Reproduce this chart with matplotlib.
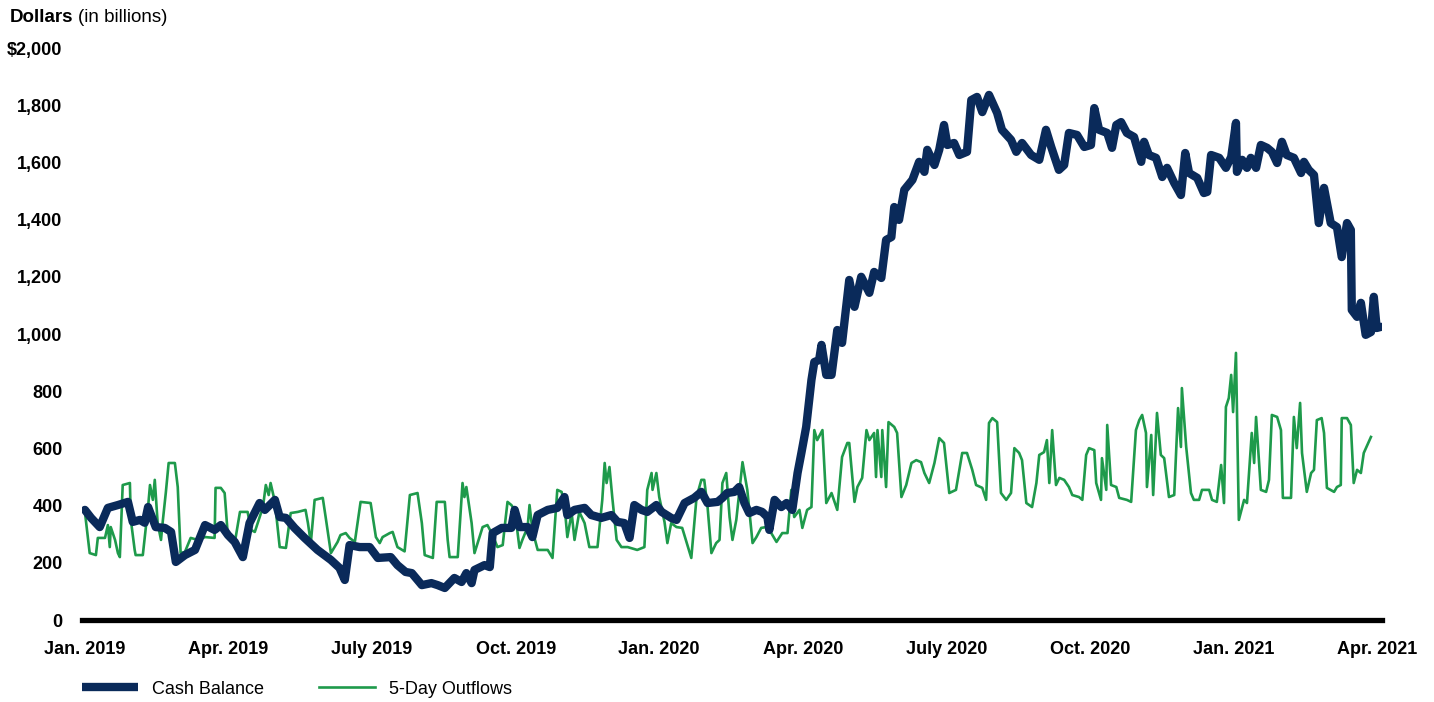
import matplotlib
matplotlib.use('Agg')
import matplotlib.pyplot as plt

plt.rcParams['font.family'] = ['Liberation Sans', 'DejaVu Sans']

# x positions are months since Jan. 2019
cash_months = [0.00, 0.13, 0.31, 0.48, 0.69, 0.90, 1.00, 1.15, 1.25, 1.32, 1.48, 1.67, 1.80, 1.90,
               2.09, 2.30, 2.51, 2.71, 2.84, 2.99, 3.13, 3.30, 3.44, 3.65, 3.76, 3.97, 4.07, 4.20,
               4.38, 4.59, 4.86, 5.14, 5.32, 5.43, 5.53, 5.74, 5.95, 6.12, 6.39, 6.53, 6.70, 6.83,
               7.04, 7.24, 7.37, 7.52, 7.72, 7.87, 7.97, 8.08, 8.14, 8.35, 8.46, 8.52, 8.71, 8.91,
               8.98, 9.08, 9.25, 9.35, 9.46, 9.67, 9.87, 10.02, 10.08, 10.23, 10.44, 10.58, 10.79,
               11.00, 11.13, 11.27, 11.38, 11.48, 11.63, 11.75, 11.94, 12.05, 12.25, 12.36, 12.53,
               12.73, 12.88, 13.01, 13.22, 13.32, 13.42, 13.57, 13.67, 13.78, 13.88, 14.03, 14.15,
               14.26, 14.30, 14.41, 14.55, 14.66, 14.78, 14.89, 14.97, 15.07, 15.18, 15.24, 15.34,
               15.39, 15.49, 15.60, 15.72, 15.82, 15.97, 16.08, 16.22, 16.39, 16.49, 16.64, 16.74,
               16.85, 16.91, 17.01, 17.12, 17.29, 17.43, 17.54, 17.60, 17.75, 17.85, 17.95, 18.02,
               18.16, 18.27, 18.43, 18.52, 18.64, 18.75, 18.89, 19.06, 19.16, 19.35, 19.46, 19.58,
               19.77, 19.94, 20.08, 20.19, 20.35, 20.46, 20.56, 20.73, 20.88, 21.02, 21.09, 21.19,
               21.36, 21.46, 21.55, 21.65, 21.77, 21.92, 22.07, 22.13, 22.23, 22.38, 22.51, 22.61,
               22.76, 22.90, 22.99, 23.07, 23.24, 23.38, 23.45, 23.53, 23.70, 23.84, 23.95, 24.05,
               24.07, 24.18, 24.28, 24.36, 24.47, 24.57, 24.70, 24.80, 24.91, 25.01, 25.11, 25.26,
               25.41, 25.47, 25.57, 25.68, 25.78, 25.89, 26.03, 26.16, 26.26, 26.37, 26.45, 26.47,
               26.58, 26.66, 26.76, 26.87, 26.93, 26.99, 27.08]
cash_balance = [385, 357, 325, 392, 402, 413, 343, 350, 340, 395, 325, 322, 308, 203,
                227, 245, 332, 315, 332, 297, 273, 220, 339, 409, 385, 420, 360, 357,
                322, 287, 245, 210, 182, 140, 262, 255, 255, 217, 220, 192, 168, 164,
                122, 129, 122, 112, 147, 133, 164, 129, 175, 192, 185, 304, 322, 322,
                385, 325, 325, 290, 367, 385, 392, 430, 367, 385, 392, 367, 357,
                367, 343, 339, 287, 402, 385, 378, 402, 378, 357, 350, 409,
                427, 448, 409, 413, 427, 444, 448, 465, 409, 374, 385, 378,
                360, 315, 420, 395, 409, 385, 514, 584, 675, 839, 902, 909,
                962, 857, 857, 1014, 969, 1189, 1095, 1200, 1144, 1217, 1196, 1329,
                1339, 1444, 1399, 1504, 1539, 1602, 1567, 1644, 1591, 1644, 1731, 1661,
                1668, 1626, 1637, 1818, 1829, 1776, 1836, 1773, 1714, 1679, 1637, 1668,
                1626, 1609, 1714, 1654, 1574, 1591, 1703, 1696, 1654, 1661, 1790, 1714,
                1703, 1651, 1731, 1741, 1703, 1689, 1602, 1672, 1626, 1616, 1549, 1581,
                1528, 1486, 1633, 1563, 1546, 1493, 1497, 1626, 1616, 1581, 1619, 1738,
                1567, 1609, 1581, 1616, 1581, 1661, 1651, 1637, 1598, 1672, 1626, 1616,
                1563, 1602, 1574, 1556, 1388, 1511, 1388, 1374, 1269, 1388, 1364, 1084,
                1060, 1109, 997, 1007, 1130, 1021, 1025]

outflow_months = [0.00, 0.10, 0.23, 0.27, 0.42, 0.48, 0.52, 0.54, 0.63, 0.69, 0.73, 0.79, 0.94, 0.96,
                  1.04, 1.06, 1.21, 1.32, 1.36, 1.42, 1.46, 1.52, 1.59, 1.63, 1.69, 1.75, 1.88, 1.94,
                  2.00, 2.09, 2.21, 2.36, 2.51, 2.71, 2.73, 2.84, 2.92, 2.99, 3.13, 3.24, 3.40, 3.47,
                  3.55, 3.61, 3.72, 3.78, 3.84, 3.88, 3.97, 4.07, 4.20, 4.30, 4.45, 4.61, 4.66, 4.72,
                  4.80, 4.97, 5.03, 5.14, 5.28, 5.34, 5.45, 5.53, 5.64, 5.76, 5.97, 6.08, 6.16, 6.22,
                  6.37, 6.43, 6.53, 6.68, 6.79, 6.95, 7.04, 7.10, 7.27, 7.35, 7.52, 7.58, 7.62, 7.79,
                  7.89, 7.93, 7.97, 8.08, 8.14, 8.31, 8.41, 8.52, 8.62, 8.73, 8.77, 8.83, 8.91, 8.98,
                  9.08, 9.14, 9.25, 9.29, 9.35, 9.46, 9.67, 9.77, 9.87, 9.96, 10.02, 10.08, 10.17,
                  10.23, 10.33, 10.44, 10.54, 10.71, 10.81, 10.86, 10.90, 10.96, 11.02, 11.11, 11.21,
                  11.34, 11.54, 11.69, 11.75, 11.84, 11.86, 11.94, 12.00, 12.11, 12.17, 12.25, 12.36,
                  12.48, 12.67, 12.78, 12.88, 12.94, 13.01, 13.09, 13.19, 13.26, 13.32, 13.40, 13.47,
                  13.53, 13.61, 13.74, 13.84, 13.95, 14.03, 14.13, 14.24, 14.34, 14.45, 14.57, 14.68,
                  14.76, 14.82, 14.93, 14.99, 15.09, 15.18, 15.24, 15.30, 15.41, 15.49, 15.60, 15.72,
                  15.82, 15.93, 15.97, 16.08, 16.14, 16.24, 16.33, 16.39, 16.49, 16.53, 16.56, 16.64,
                  16.66, 16.74, 16.79, 16.91, 16.97, 17.06, 17.16, 17.27, 17.37, 17.47, 17.54, 17.64,
                  17.75, 17.85, 17.95, 18.06, 18.20, 18.33, 18.43, 18.54, 18.62, 18.75, 18.83, 18.89,
                  18.96, 19.06, 19.14, 19.25, 19.35, 19.42, 19.52, 19.58, 19.67, 19.79, 19.88, 19.94,
                  20.04, 20.10, 20.15, 20.21, 20.29, 20.36, 20.46, 20.56, 20.63, 20.77, 20.84, 20.92,
                  20.98, 21.09, 21.13, 21.23, 21.25, 21.34, 21.36, 21.44, 21.55, 21.61, 21.77, 21.86,
                  21.96, 22.03, 22.09, 22.17, 22.19, 22.28, 22.32, 22.40, 22.48, 22.55, 22.65, 22.76,
                  22.84, 22.90, 22.92, 23.01, 23.11, 23.17, 23.28, 23.34, 23.49, 23.55, 23.65, 23.74,
                  23.80, 23.84, 23.90, 23.95, 23.99, 24.05, 24.11, 24.22, 24.28, 24.38, 24.43, 24.47,
                  24.57, 24.68, 24.74, 24.80, 24.91, 24.99, 25.03, 25.20, 25.26, 25.32, 25.39, 25.43,
                  25.53, 25.62, 25.68, 25.74, 25.84, 25.89, 25.95, 26.10, 26.16, 26.24, 26.26, 26.37,
                  26.45, 26.51, 26.58, 26.66, 26.72, 26.87]
outflows = [378, 234, 227, 287, 287, 332, 255, 325, 280, 234, 220, 472, 479, 350,
            245, 227, 227, 395, 472, 420, 490, 339, 280, 350, 444, 549, 549, 465,
            234, 238, 287, 280, 290, 287, 462, 462, 444, 287, 269, 378, 378, 315,
            308, 339, 395, 472, 437, 479, 413, 255, 252, 374, 378, 385, 339, 269,
            420, 427, 360, 234, 273, 297, 304, 287, 273, 413, 409, 290, 269, 290,
            304, 308, 255, 240, 437, 444, 339, 227, 217, 413, 413, 280, 220, 220,
            479, 430, 465, 339, 234, 325, 332, 297, 255, 262, 325, 413, 402, 385,
            252, 280, 325, 402, 315, 245, 245, 217, 455, 448, 402, 290, 374,
            280, 378, 339, 255, 255, 420, 549, 479, 535, 427, 280, 255,
            255, 245, 255, 455, 514, 455, 514, 430, 343, 269, 339, 325,
            322, 217, 430, 490, 490, 395, 234, 269, 280, 479, 514, 360,
            280, 350, 552, 455, 269, 290, 322, 325, 304, 273, 304, 304,
            455, 360, 385, 322, 385, 395, 664, 629, 664, 409, 444, 385,
            570, 619, 619, 413, 465, 497, 664, 629, 654, 500, 664, 500,
            664, 465, 692, 675, 654, 430, 472, 549, 559, 552, 514, 479,
            549, 636, 619, 444, 455, 584, 584, 525, 472, 462, 420, 689,
            706, 692, 444, 420, 444, 601, 584, 559, 409, 395, 479, 577,
            587, 629, 479, 664, 472, 497, 490, 465, 437, 430, 420, 577,
            601, 594, 479, 420, 566, 455, 682, 472, 465, 427, 420, 413,
            664, 699, 717, 654, 465, 647, 437, 724, 577, 566, 430, 437,
            741, 605, 811, 605, 444, 420, 420, 455, 455, 420, 413, 542,
            409, 745, 776, 857, 727, 934, 350, 420, 409, 654, 549, 710,
            455, 448, 490, 717, 710, 664, 427, 427, 710, 601, 759, 584,
            448, 514, 525, 699, 706, 654, 462, 448, 465, 472, 706, 706,
            682, 479, 525, 514, 584, 640]

tick_months = [0, 3, 6, 9, 12, 15, 18, 21, 24, 27]
tick_labels = ['Jan. 2019', 'Apr. 2019', 'July 2019', 'Oct. 2019', 'Jan. 2020',
               'Apr. 2020', 'July 2020', 'Oct. 2020', 'Jan. 2021', 'Apr. 2021']
y_ticks = [0, 200, 400, 600, 800, 1000, 1200, 1400, 1600, 1800, 2000]
y_labels = ['0', '200', '400', '600', '800', '1,000', '1,200', '1,400', '1,600', '1,800', '$2,000']

navy = '#0a2a5a'
green = '#1e9a4b'

fig = plt.figure(figsize=(14.34, 7.02), dpi=100)
ax = fig.add_axes([0.0572, 0.1168, 0.9065, 0.8148])

ax.plot(outflow_months, outflows, color=green, linewidth=1.9, label='5-Day Outflows', zorder=2)
ax.plot(cash_months, cash_balance, color=navy, linewidth=6, solid_joinstyle='round',
        solid_capstyle='round', label='Cash Balance', zorder=3)

ax.set_xlim(-0.06, 27.1)
ax.set_ylim(0, 2000)
ax.set_xticks(tick_months)
ax.set_xticklabels(tick_labels)
ax.set_yticks(y_ticks)
ax.set_yticklabels(y_labels)
for side in ['left', 'right', 'top']:
    ax.spines[side].set_visible(False)
ax.spines['bottom'].set_linewidth(3.8)
ax.spines['bottom'].set_color('black')
ax.tick_params(axis='both', length=0, labelsize=13)
ax.tick_params(axis='x', pad=15)
ax.tick_params(axis='y', pad=14)
for lbl in ax.get_xticklabels() + ax.get_yticklabels():
    lbl.set_fontweight('bold')

# title: bold "Dollars" followed by normal "(in billions)"
t1 = fig.text(10 / 1434, 1 - 17 / 702, 'Dollars', fontsize=13.5, fontweight='bold', va='center')
fig.canvas.draw()
bb = t1.get_window_extent(renderer=fig.canvas.get_renderer())
fig.text((bb.x1 + 5) / 1434, 1 - 17 / 702, '(in billions)', fontsize=13.5, va='center')

handles, labels = ax.get_legend_handles_labels()
leg = fig.legend(handles[::-1], labels[::-1], loc='center left', bbox_to_anchor=(82 / 1434, 1 - 689 / 702),
                 ncol=2, frameon=False, fontsize=13, handlelength=3.1, handletextpad=0.75,
                 columnspacing=3.1, borderpad=0, borderaxespad=0)
leg.get_lines()[0].set_solid_capstyle('butt')

fig.savefig('out.png', dpi=100)
